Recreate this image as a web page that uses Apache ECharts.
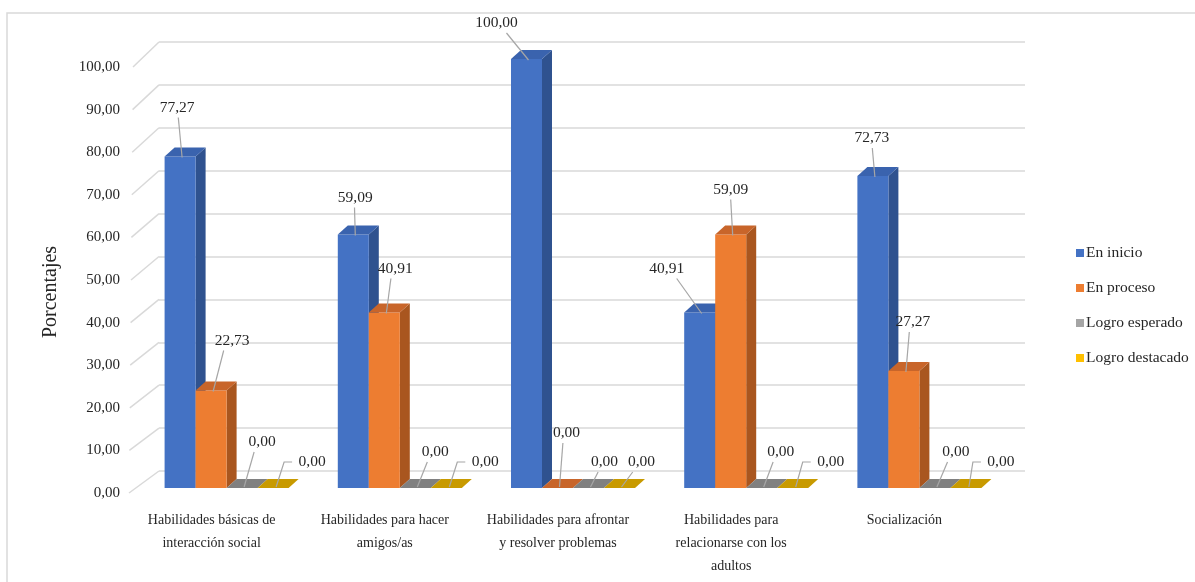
<!DOCTYPE html>
<html>
<head>
<meta charset="utf-8">
<script src="https://cdn.jsdelivr.net/npm/echarts@6/dist/echarts.min.js"></script>
<style>
  html, body { margin: 0; padding: 0; background: #fff; }
  #chart { width: 1195px; height: 582px; }
</style>
</head>
<body>
<div id="chart"></div>
<script>
// categorias (eje x)
const categorias = [
  'Habilidades básicas de\ninteracción social',
  'Habilidades para hacer\namigos/as',
  'Habilidades para afrontar\ny resolver problemas',
  'Habilidades para\nrelacionarse con los\nadultos',
  'Socialización'
];
const nombresSeries = ['En inicio', 'En proceso', 'Logro esperado', 'Logro destacado'];

// porcentajes por nivel
const enInicio = [77.27, 59.09, 100.00, 40.91, 72.73];
const enProceso = [22.73, 40.91, 0.00, 59.09, 27.27];
const logroEsperado = [0.00, 0.00, 0.00, 0.00, 0.00];
const logroDestacado = [0.00, 0.00, 0.00, 0.00, 0.00];

const yTicks = [0, 10, 20, 30, 40, 50, 60, 70, 80, 90, 100];

// colores: frente, lado, tapa
const colores = [
  ['#4472C4', '#2F528F', '#3A63AE'],
  ['#ED7D31', '#A9561F', '#C8652A'],
  ['#A5A5A5', '#6E6E6E', '#808080'],
  ['#FFC000', '#B58800', '#C89A00']
];

// desplazamiento de las etiquetas (como quedaron movidas a mano en el original)
const etiquetaDesp = [
  [[-3, -49], [2, -37], [-30, -36], [-33, -44], [-1, -38]],
  [[21, -50], [11, -44], [9, -55], [0, -45], [9, -49]],
  [[20, -46], [20, -36], [16, -26], [19, -36], [21, -36]],
  [[39, -26], [39, -26], [22, -26], [38, -26], [35, -26]]
];

const fuente = 'Liberation Serif, Times New Roman, serif';
const fmt = v => v.toFixed(2).replace('.', ',');
const DX = 10, DY = -9;

const render3D = sIdx => (params, api) => {
  const cat = api.value(0);
  const val = api.value(1);
  const base = api.coord([cat, 0]);
  const top = api.coord([cat, val]);
  const band = api.size([1, 0])[0];
  const w = band * 0.179;
  const x = base[0] + (sIdx - 2) * w;
  const y = top[1], y0 = base[1];
  const c = colores[sIdx];
  const children = [];

  if (y0 - y > 0.5) {
    children.push({
      type: 'polygon',
      shape: { points: [[x + w, y], [x + w + DX, y + DY], [x + w + DX, y0 + DY], [x + w, y0]] },
      style: { fill: c[1] }
    });
    children.push({
      type: 'rect',
      shape: { x: x, y: y, width: w, height: y0 - y },
      style: { fill: c[0] }
    });
  }
  children.push({
    type: 'polygon',
    shape: { points: [[x, y], [x + w, y], [x + w + DX, y + DY], [x + DX, y + DY]] },
    style: { fill: c[2] }
  });

  // etiqueta con linea guia
  const d = etiquetaDesp[sIdx][params.dataIndex];
  const cx = x + w / 2;
  const lx = cx + d[0], ly = y + d[1];
  let pts;
  if (d[0] >= 30 && d[1] > -30) {
    pts = [[lx - 20, ly], [lx - 28, ly], [cx + 3, y0 - 1]];
  } else {
    const sx = lx + Math.max(-10, Math.min(10, -d[0] * 0.4));
    pts = [[sx, ly + 10], [cx + 2, y + (val > 0 ? 1 : -1)]];
  }
  children.push({
    type: 'polyline',
    shape: { points: pts },
    style: { stroke: '#A6A6A6', lineWidth: 1.2, fill: null }
  });
  children.push({
    type: 'text',
    style: {
      text: fmt(val), x: lx, y: ly, align: 'center', verticalAlign: 'middle',
      font: '15.5px ' + fuente, fill: '#262626'
    }
  });
  return { type: 'group', children: children };
};

const valores = [enInicio, enProceso, logroEsperado, logroDestacado];

const seriesBarras = valores.map((arr, i) => ({
  name: nombresSeries[i],
  type: 'custom',
  xAxisIndex: 1,
  yAxisIndex: 1,
  clip: false,
  itemStyle: { color: colores[i][0] },
  renderItem: render3D(i),
  data: arr.map((v, k) => [k, v]),
  z: 5 + i
}));

// diagonales del piso hacia la pared del fondo
const serieDiagonales = {
  type: 'custom',
  xAxisIndex: 0,
  yAxisIndex: 0,
  clip: false,
  silent: true,
  renderItem: (params, api) => {
    const v = api.value(1);
    const p = api.coord([0, v]);
    const t = v / 100;
    const dx = 30 - 4 * t, dy = 22 + 3 * t;
    return {
      type: 'line',
      shape: { x1: p[0] - dx, y1: p[1] + dy, x2: p[0], y2: p[1] },
      style: { stroke: '#D9D9D9', lineWidth: 1.5 }
    };
  },
  data: yTicks.map(v => [0, v]),
  z: 1
};

const chart = echarts.init(document.getElementById('chart'), null, { renderer: 'canvas' });

const option = {
  backgroundColor: '#fff',
  animation: false,
  graphic: [{
    type: 'rect',
    shape: { x: 7, y: 13, width: 1300, height: 700 },
    style: { fill: null, stroke: '#D9D9D9', lineWidth: 1.5 },
    silent: true
  }],
  legend: {
    orient: 'vertical',
    left: 1071,
    top: 240,
    itemWidth: 8,
    itemHeight: 8,
    itemGap: 19,
    icon: 'rect',
    data: nombresSeries,
    textStyle: { fontFamily: fuente, fontSize: 15.5, color: '#262626', padding: [0, 0, 0, -3] }
  },
  grid: [
    { left: 159, right: 170, top: 42, bottom: 111 },   // pared del fondo
    { left: 140, right: 189, top: 59, bottom: 94 },    // barras
    { left: 133, right: 189, top: 67, bottom: 89 }     // etiquetas eje y
  ],
  xAxis: [
    { gridIndex: 0, type: 'value', min: 0, max: 1, show: false },
    {
      gridIndex: 1,
      type: 'category',
      data: categorias,
      axisLine: { show: false },
      axisTick: { show: false },
      axisLabel: {
        interval: 0,
        margin: 21,
        fontFamily: fuente,
        fontSize: 14,
        lineHeight: 23,
        color: '#262626',
        padding: [0, 30, 0, 0]
      }
    },
    { gridIndex: 2, type: 'value', min: 0, max: 1, show: false }
  ],
  yAxis: [
    {
      gridIndex: 0, type: 'value', min: 0, max: 100, interval: 10,
      axisLine: { show: false }, axisTick: { show: false }, axisLabel: { show: false },
      splitLine: { lineStyle: { color: '#D9D9D9', width: 1.5 } }
    },
    {
      gridIndex: 1, type: 'value', min: 0, max: 100, interval: 10, show: false
    },
    {
      gridIndex: 2, type: 'value', min: 0, max: 100, interval: 10,
      axisLine: { show: false }, axisTick: { show: false },
      splitLine: { show: false },
      axisLabel: { formatter: v => fmt(v), margin: 13, fontFamily: fuente, fontSize: 15, color: '#262626' },
      name: 'Porcentajes',
      nameLocation: 'middle',
      nameGap: 72,
      nameTextStyle: { fontFamily: fuente, fontSize: 20, color: '#262626', padding: [0, 24, 0, 0] }
    }
  ],
  series: [serieDiagonales].concat(seriesBarras)
};

option && chart.setOption(option);
</script>
</body>
</html>
